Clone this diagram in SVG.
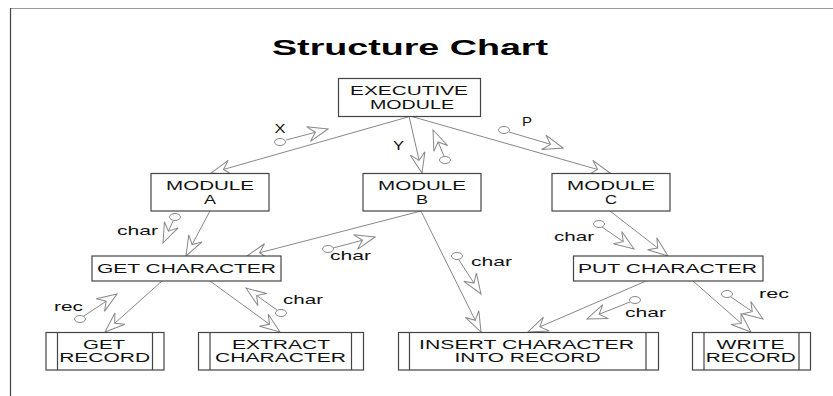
<svg xmlns="http://www.w3.org/2000/svg" width="833" height="396" viewBox="0 0 833 396">
<style>
.box{fill:#fff;stroke:#444;stroke-width:1.2}
.bar{stroke:#444;stroke-width:1.2}
.t{font-family:"Liberation Sans",Arial,sans-serif;font-size:12px;fill:#111;text-anchor:middle}
.lb{font-family:"Liberation Sans",Arial,sans-serif;font-size:13px;fill:#111;text-anchor:middle}
.title{font-family:"Liberation Sans",Arial,sans-serif;font-size:22px;font-weight:bold;fill:#000;text-anchor:middle}
.c{stroke:#888;stroke-width:1;fill:none;marker-end:url(#ah)}
.dc{fill:#fff;stroke:#888;stroke-width:1}
</style>
<defs>
<marker id="ah" markerUnits="userSpaceOnUse" orient="auto" overflow="visible" markerWidth="1" markerHeight="1" refX="0" refY="0">
<path d="M0,0 L-20,-7.5 L-13,0 L-20,7.5 Z" fill="#fff" stroke="#888" stroke-width="1"/>
</marker>
</defs>
<rect width="833" height="396" fill="#fff"/>
<line x1="10" y1="8.5" x2="833" y2="8.5" stroke="#999" stroke-width="1.2"/>
<line x1="10.5" y1="8" x2="10.5" y2="396" stroke="#444" stroke-width="1.2"/>
<text class="title" x="410" y="55" textLength="276" lengthAdjust="spacingAndGlyphs">Structure Chart</text>

<g id="connectors">
<line class="c" x1="408" y1="117" x2="211" y2="173"/>
<line class="c" x1="409" y1="116" x2="422" y2="173"/>
<line class="c" x1="410" y1="116" x2="610" y2="173"/>
<line class="c" x1="210" y1="211" x2="186" y2="256"/>
<line class="c" x1="421" y1="211" x2="247" y2="256"/>
<line class="c" x1="421" y1="211" x2="481" y2="332"/>
<line class="c" x1="610" y1="211" x2="668" y2="256"/>
<line class="c" x1="162" y1="281" x2="105" y2="332"/>
<line class="c" x1="210" y1="281" x2="280" y2="332"/>
<line class="c" x1="646" y1="281" x2="528" y2="332"/>
<line class="c" x1="693" y1="281" x2="751" y2="332"/>
</g>

<g id="couples">
<g id="couple-x"><line class="c" x1="286" y1="140" x2="328" y2="129"/><ellipse class="dc" cx="280" cy="142" rx="5.5" ry="3.5"/><text class="lb" x="280" y="133" textLength="11" lengthAdjust="spacingAndGlyphs">X</text></g>
<g id="couple-y"><line class="c" x1="444" y1="156" x2="433" y2="130"/><ellipse class="dc" cx="445" cy="160" rx="5.5" ry="3.5"/><text class="lb" x="398.5" y="150" textLength="11" lengthAdjust="spacingAndGlyphs">Y</text></g>
<g id="couple-p"><line class="c" x1="509" y1="132" x2="563" y2="148"/><ellipse class="dc" cx="504" cy="130" rx="5.5" ry="3.5"/><text class="lb" x="527" y="126" textLength="10" lengthAdjust="spacingAndGlyphs">P</text></g>
<g id="couple-char1"><line class="c" x1="173" y1="221" x2="163" y2="243"/><ellipse class="dc" cx="175" cy="217" rx="5.5" ry="3.5"/><text class="lb" x="137.5" y="235" textLength="41" lengthAdjust="spacingAndGlyphs">char</text></g>
<g id="couple-char2"><line class="c" x1="333" y1="248" x2="375" y2="237"/><ellipse class="dc" cx="328" cy="249" rx="5.5" ry="3.5"/><text class="lb" x="350.5" y="260" textLength="41" lengthAdjust="spacingAndGlyphs">char</text></g>
<g id="couple-rec1"><line class="c" x1="84" y1="316" x2="117" y2="294"/><ellipse class="dc" cx="80" cy="319" rx="5.5" ry="3.5"/><text class="lb" x="68.5" y="311" textLength="29" lengthAdjust="spacingAndGlyphs">rec</text></g>
<g id="couple-char3"><line class="c" x1="277" y1="310" x2="246" y2="288"/><ellipse class="dc" cx="281" cy="313" rx="5.5" ry="3.5"/><text class="lb" x="303" y="304" textLength="40" lengthAdjust="spacingAndGlyphs">char</text></g>
<g id="couple-char4"><line class="c" x1="459" y1="260" x2="481" y2="294"/><ellipse class="dc" cx="457" cy="256" rx="5.5" ry="3.5"/><text class="lb" x="491.5" y="266" textLength="41" lengthAdjust="spacingAndGlyphs">char</text></g>
<g id="couple-char5"><line class="c" x1="602" y1="227" x2="634" y2="249"/><ellipse class="dc" cx="599" cy="224" rx="5.5" ry="3.5"/><text class="lb" x="574" y="241" textLength="40" lengthAdjust="spacingAndGlyphs">char</text></g>
<g id="couple-char6"><line class="c" x1="630" y1="302" x2="587" y2="319"/><ellipse class="dc" cx="635" cy="300" rx="5.5" ry="3.5"/><text class="lb" x="645.5" y="317" textLength="41" lengthAdjust="spacingAndGlyphs">char</text></g>
<g id="couple-rec2"><line class="c" x1="731" y1="297" x2="763" y2="319"/><ellipse class="dc" cx="727" cy="294" rx="5.5" ry="3.5"/><text class="lb" x="774" y="298" textLength="30" lengthAdjust="spacingAndGlyphs">rec</text></g>
</g>

<g id="executive">
<rect class="box" x="338.5" y="78.5" width="142" height="38"/>
<text class="t" x="409" y="95" textLength="118" lengthAdjust="spacingAndGlyphs">EXECUTIVE</text>
<text class="t" x="412" y="108.5" textLength="84" lengthAdjust="spacingAndGlyphs">MODULE</text>
</g>
<g id="module-a">
<rect class="box" x="151" y="173.5" width="118" height="37.5"/>
<text class="t" x="210" y="190" textLength="88" lengthAdjust="spacingAndGlyphs">MODULE</text>
<text class="t" x="210" y="203.5" textLength="12" lengthAdjust="spacingAndGlyphs">A</text>
</g>
<g id="module-b">
<rect class="box" x="363" y="173.5" width="118" height="37.5"/>
<text class="t" x="422" y="190" textLength="88" lengthAdjust="spacingAndGlyphs">MODULE</text>
<text class="t" x="422" y="203.5" textLength="12" lengthAdjust="spacingAndGlyphs">B</text>
</g>
<g id="module-c">
<rect class="box" x="552" y="173.5" width="118" height="37.5"/>
<text class="t" x="611" y="190" textLength="88" lengthAdjust="spacingAndGlyphs">MODULE</text>
<text class="t" x="611" y="203.5" textLength="12" lengthAdjust="spacingAndGlyphs">C</text>
</g>
<g id="get-character">
<rect class="box" x="92" y="256" width="189" height="25"/>
<text class="t" x="186.5" y="273" textLength="179" lengthAdjust="spacingAndGlyphs">GET CHARACTER</text>
</g>
<g id="put-character">
<rect class="box" x="573.5" y="256" width="189.5" height="25"/>
<text class="t" x="667.5" y="273" textLength="179" lengthAdjust="spacingAndGlyphs">PUT CHARACTER</text>
</g>
<g id="get-record">
<rect class="box" x="46" y="332.5" width="118" height="37.5"/>
<line class="bar" x1="57.5" y1="332.5" x2="57.5" y2="370"/>
<line class="bar" x1="152.5" y1="332.5" x2="152.5" y2="370"/>
<text class="t" x="104" y="349" textLength="42" lengthAdjust="spacingAndGlyphs">GET</text>
<text class="t" x="104.7" y="362" textLength="91" lengthAdjust="spacingAndGlyphs">RECORD</text>
</g>
<g id="extract-character">
<rect class="box" x="198.5" y="332.5" width="165" height="37.5"/>
<line class="bar" x1="210" y1="332.5" x2="210" y2="370"/>
<line class="bar" x1="351.5" y1="332.5" x2="351.5" y2="370"/>
<text class="t" x="281" y="349" textLength="98" lengthAdjust="spacingAndGlyphs">EXTRACT</text>
<text class="t" x="280.5" y="362" textLength="131" lengthAdjust="spacingAndGlyphs">CHARACTER</text>
</g>
<g id="insert-character">
<rect class="box" x="398.5" y="332.5" width="260" height="37.5"/>
<line class="bar" x1="409.5" y1="332.5" x2="409.5" y2="370"/>
<line class="bar" x1="646" y1="332.5" x2="646" y2="370"/>
<text class="t" x="526.6" y="349" textLength="215" lengthAdjust="spacingAndGlyphs">INSERT CHARACTER</text>
<text class="t" x="527.5" y="362" textLength="146" lengthAdjust="spacingAndGlyphs">INTO RECORD</text>
</g>
<g id="write-record">
<rect class="box" x="692.5" y="332.5" width="118" height="37.5"/>
<line class="bar" x1="704" y1="332.5" x2="704" y2="370"/>
<line class="bar" x1="799" y1="332.5" x2="799" y2="370"/>
<text class="t" x="750.5" y="349" textLength="68" lengthAdjust="spacingAndGlyphs">WRITE</text>
<text class="t" x="750.7" y="362" textLength="90" lengthAdjust="spacingAndGlyphs">RECORD</text>
</g>
</svg>
